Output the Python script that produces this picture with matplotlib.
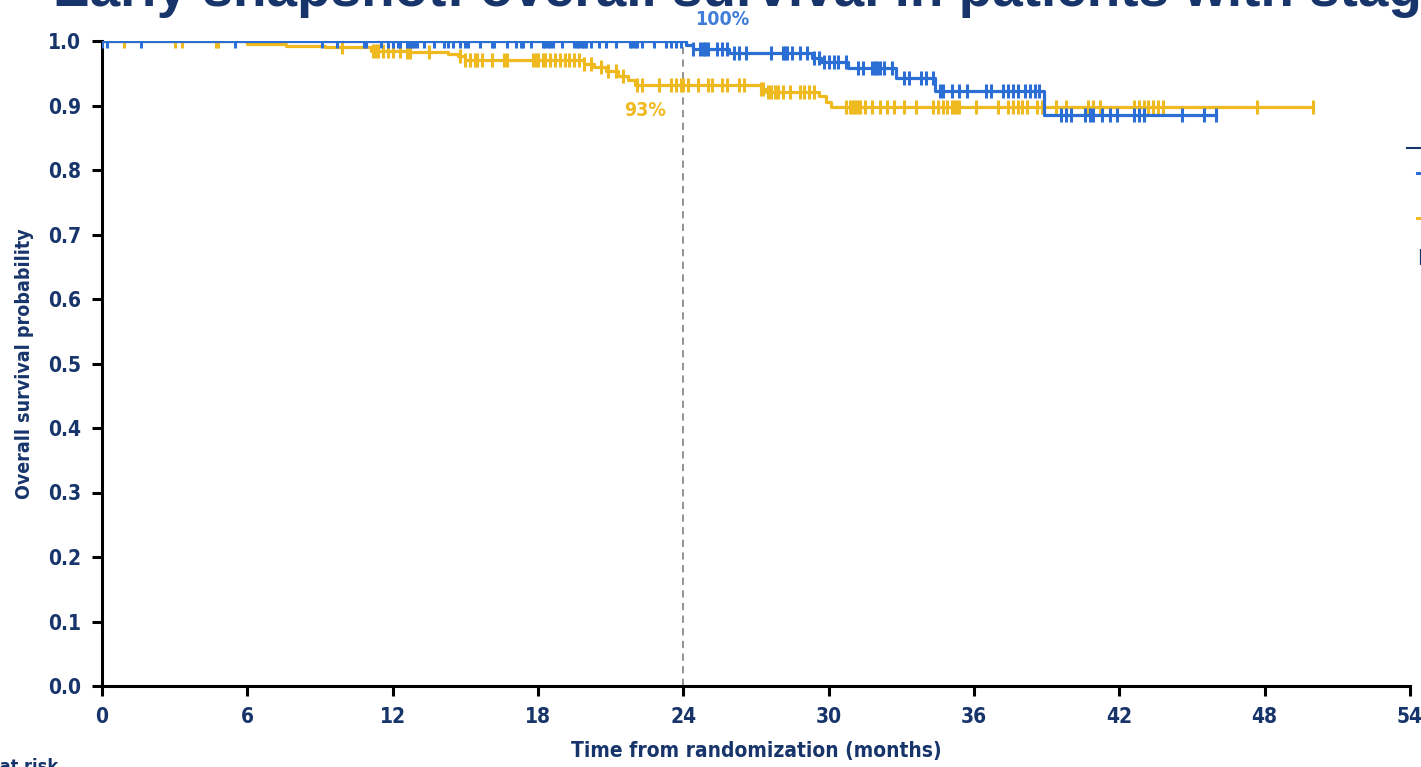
import matplotlib.pyplot as plt
import numpy as np
from matplotlib.lines import Line2D

# Kaplan-Meier steps (months, survival probability)
blue_t = [0, 24.1, 24.4, 25.9, 29.3, 29.7, 30.8, 32.8, 34.4, 38.9]
blue_s = [1.0, 0.994, 0.988, 0.981, 0.974, 0.968, 0.958, 0.943, 0.922, 0.885]
blue_end = 46.0
blue_cens = [0.0, 0.2, 1.6, 5.5, 9.1, 9.7, 10.8, 10.9, 11.5, 11.8, 12.0, 12.2, 12.3,
             12.6, 12.7, 12.8, 12.9, 13.0, 13.3, 13.7, 14.1, 14.3, 14.5, 14.8, 15.0,
             15.1, 15.6, 16.1, 16.2, 16.7, 17.1, 17.3, 17.4, 17.7, 18.2, 18.3, 18.4,
             18.5, 18.6, 19.0, 19.5, 19.6, 19.7, 19.8, 19.9, 20.0, 20.2, 20.5, 20.8,
             21.2, 21.8, 21.9, 22.0, 22.1, 22.3, 22.8, 23.3, 23.5, 23.7, 23.9, 24.4,
             24.7, 24.8, 24.9, 25.0, 25.4, 25.6, 25.8, 26.1, 26.3, 26.6, 27.6, 28.1,
             28.2, 28.3, 28.5, 28.8, 29.1, 29.4, 29.6, 29.8, 30.0, 30.2, 30.4, 30.7,
             31.2, 31.4, 31.8, 31.9, 32.0, 32.1, 32.3, 32.6, 33.1, 33.3, 33.8, 34.0,
             34.3, 34.6, 34.7, 35.1, 35.4, 35.7, 36.5, 36.7, 37.2, 37.4, 37.6, 37.8,
             38.1, 38.3, 38.5, 38.7, 39.6, 39.8, 40.0, 40.6, 40.8, 40.9, 41.3, 41.6,
             41.9, 42.6, 42.8, 43.0, 44.6, 45.5, 46.0]

yel_t = [0, 6.0, 7.6, 9.2, 11.1, 12.6, 14.3, 14.7, 15.0, 19.9, 20.3, 20.8, 21.3,
         21.7, 22.0, 27.2, 27.4, 29.6, 29.9, 30.1]
yel_s = [1.0, 0.996, 0.993, 0.990, 0.985, 0.983, 0.980, 0.976, 0.971, 0.965, 0.960,
         0.954, 0.945, 0.940, 0.932, 0.926, 0.921, 0.915, 0.906, 0.897]
yel_end = 50.0
yel_cens = [0.9, 3.0, 3.3, 4.7, 4.8, 9.9, 11.2, 11.3, 11.4, 11.6, 11.8, 12.0, 12.3,
            12.6, 12.7, 13.5, 14.8, 15.0, 15.2, 15.4, 15.5, 15.7, 16.1, 16.6, 16.7,
            17.8, 17.9, 18.0, 18.2, 18.3, 18.5, 18.7, 18.9, 19.1, 19.3, 19.5, 19.7,
            19.9, 20.2, 20.6, 20.9, 21.2, 21.5, 22.1, 22.3, 23.0, 23.5, 23.7, 23.9,
            24.0, 24.2, 24.6, 25.0, 25.2, 25.6, 25.8, 26.3, 26.5, 27.2, 27.3, 27.5,
            27.6, 27.8, 27.9, 28.1, 28.4, 28.8, 29.0, 29.2, 29.4, 30.7, 30.9, 31.0,
            31.1, 31.2, 31.3, 31.5, 31.8, 32.1, 32.4, 32.7, 33.1, 33.6, 34.3, 34.5,
            34.7, 34.9, 35.1, 35.2, 35.3, 35.4, 36.1, 37.0, 37.4, 37.6, 37.8, 38.0,
            38.2, 38.6, 38.8, 39.4, 39.8, 40.7, 40.9, 41.2, 42.6, 42.8, 43.0, 43.2,
            43.4, 43.6, 43.8, 47.7, 50.0]

xticks = [0, 6, 12, 18, 24, 30, 36, 42, 48, 54]
yticks = [0.0, 0.1, 0.2, 0.3, 0.4, 0.5, 0.6, 0.7, 0.8, 0.9, 1.0]
landmark = 24
blue_pct = "100%"
yel_pct = "93%"

navy = "#17356b"
blue = "#2b6fd4"
yellow = "#efb920"
cond = dict(family="DejaVu Sans", fontstretch="condensed", fontweight="bold")


def surv_at(t_steps, s_steps, times):
    idx = np.searchsorted(t_steps, times, side="right") - 1
    return np.asarray(s_steps)[idx]


fig = plt.figure(figsize=(14.21, 7.67), dpi=100)
ax = fig.add_axes([102 / 1421, 1 - 686 / 767, 1308 / 1421, 645 / 767])

for t, s, end, cens, col in [(yel_t, yel_s, yel_end, yel_cens, yellow),
                             (blue_t, blue_s, blue_end, blue_cens, blue)]:
    tt = list(t) + [end]
    ss = list(s) + [s[-1]]
    ax.step(tt, ss, where="post", color=col, lw=2.3, zorder=3)
    ax.plot(cens, surv_at(t, s, cens), ls="none", marker="|", ms=10,
            mew=2.2, color=col, zorder=3)

ax.plot([landmark, landmark], [0, 0.99], ls=(0, (4, 3)), color="#8a8a8a",
        lw=1.3, zorder=2)
ax.text(landmark + 1.6, surv_at(blue_t, blue_s, [landmark])[0] + 0.033, blue_pct,
        color=blue, fontsize=14, ha="center", va="center", alpha=0.9, **cond)
ax.text(landmark - 1.6, surv_at(yel_t, yel_s, [landmark])[0] - 0.04, yel_pct,
        color=yellow, fontsize=14, ha="center", va="center", **cond)

ax.set_xlim(0, 54)
ax.set_ylim(0, 1.0)
ax.set_xticks(xticks)
ax.set_yticks(yticks)
ax.set_yticklabels([f"{v:.1f}" for v in yticks])
ax.spines["top"].set_visible(False)
ax.spines["right"].set_visible(False)
for sp in ("left", "bottom"):
    ax.spines[sp].set_linewidth(2.2)
ax.tick_params(width=2.2, length=7, pad=8, labelsize=15, labelcolor=navy)
for lab in ax.get_xticklabels() + ax.get_yticklabels():
    lab.set_family("DejaVu Sans")
    lab.set_fontstretch("condensed")
    lab.set_fontweight("bold")

ax.set_xlabel("Time from randomization (months)", fontsize=15, color=navy,
              labelpad=10, **cond)
ax.set_ylabel("Overall survival probability", fontsize=14, color=navy,
              labelpad=10, **cond)

fig.text(53 / 1421, 1 - 6 / 767, "Early snapshot: overall survival in patients with stage III",
         fontsize=39.5, fontweight="bold", color=navy, family="Liberation Sans",
         ha="left", va="baseline")
fig.text(58 / 1421, 1 - 767 / 767, "No. at risk", fontsize=13, color=navy,
         ha="right", va="center", **cond)

# legend block at the right edge
fig.add_artist(Line2D([1407 / 1421, 1440 / 1421], [1 - 148 / 767] * 2,
                      color=navy, lw=1.5))
fig.add_artist(Line2D([1417 / 1421, 1450 / 1421], [1 - 173 / 767] * 2,
                      color=blue, lw=2.2))
fig.add_artist(Line2D([1417 / 1421, 1450 / 1421], [1 - 218 / 767] * 2,
                      color=yellow, lw=2.2))
fig.text(1417 / 1421, 1 - 259 / 767, "HR", fontsize=15, fontweight="bold",
         color=navy, ha="left", va="center")

fig.savefig("out.png", dpi=100)
